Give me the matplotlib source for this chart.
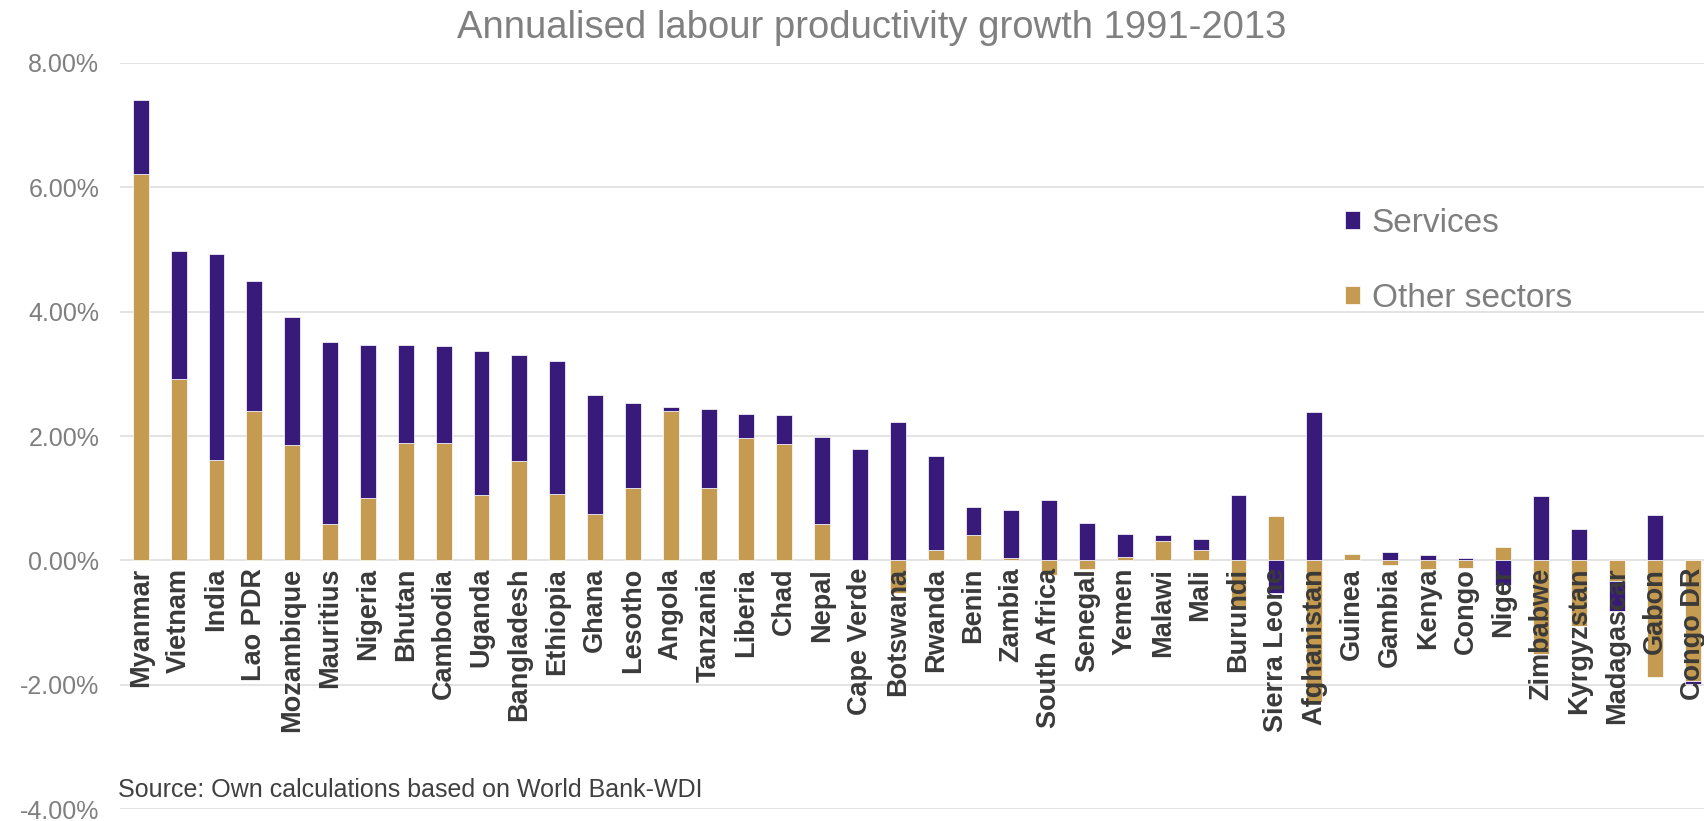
import numpy as np
import matplotlib
matplotlib.use("Agg")
import matplotlib.pyplot as plt

plt.rcParams['font.family'] = ['Liberation Sans', 'DejaVu Sans']

countries = ["Myanmar", "Vietnam", "India", "Lao PDR", "Mozambique", "Mauritius",
             "Nigeria", "Bhutan", "Cambodia", "Uganda", "Bangladesh", "Ethiopia",
             "Ghana", "Lesotho", "Angola", "Tanzania", "Liberia", "Chad", "Nepal",
             "Cape Verde", "Botswana", "Rwanda", "Benin", "Zambia", "South Africa",
             "Senegal", "Yemen", "Malawi", "Mali", "Burundi", "Sierra Leone",
             "Afghanistan", "Guinea", "Gambia", "Kenya", "Congo", "Niger",
             "Zimbabwe", "Kyrgyzstan", "Madagascar", "Gabon", "Congo DR"]

# contributions in percentage points
other = [6.21, 2.92, 1.61, 2.40, 1.85, 0.59, 1.00, 1.89, 1.89, 1.05, 1.59, 1.07,
         0.74, 1.17, 2.40, 1.17, 1.96, 1.87, 0.59, 0.00, -0.52, 0.16, 0.41, 0.03,
         -0.24, -0.14, 0.06, 0.31, 0.17, -0.78, 0.71, -2.28, 0.10, -0.07, -0.14,
         -0.12, 0.21, -1.50, -1.06, -0.34, -1.88, -1.94]
services = [1.20, 2.05, 3.32, 2.09, 2.07, 2.92, 2.47, 1.58, 1.55, 2.31, 1.72, 2.13,
            1.92, 1.36, 0.06, 1.27, 0.39, 0.46, 1.40, 1.79, 2.22, 1.52, 0.45, 0.78,
            0.97, 0.60, 0.37, 0.10, 0.17, 1.05, -0.52, 2.38, 0.00, 0.14, 0.08,
            0.04, -0.39, 1.03, 0.51, -0.48, 0.73, -0.05]

yticks = [-4, -2, 0, 2, 4, 6, 8]

c_serv = "#371a79"
c_other = "#c49b51"

o = np.array(other) / 100
s = np.array(services) / 100
# excel style stacking: same sign stacks on top of other sectors
s_bottom = np.where(np.sign(s) == np.sign(o), o, 0)
x = np.arange(len(countries))

fig = plt.figure(figsize=(17.04, 8.21), dpi=100)
ax = fig.add_axes([120 / 1704, 12 / 821, 1 - 120 / 1704, 1 - 75 / 821])

ax.bar(x, o, width=0.42, color=c_other, edgecolor="white", linewidth=0.5,
       label="Other sectors", zorder=2)
ax.bar(x, s, bottom=s_bottom, width=0.42, color=c_serv, edgecolor="white",
       linewidth=0.5, label="Services", zorder=2)

yt = np.array(yticks) / 100
for v in yt:
    ax.axhline(v, color="#e0e0e0", linewidth=1.3, zorder=0)

ax.set_ylim(yt[0], yt[-1])
ax.set_xlim(-0.55, len(countries) - 0.7)
ax.set_yticks(yt)
ax.set_yticklabels([f"{v:.2f}%" for v in yticks], fontsize=18, color="#7f7f7f")
ax.tick_params(axis="y", length=0, pad=15)
ax.set_xticks([])
for sp in ax.spines.values():
    sp.set_visible(False)

for i, name in enumerate(countries):
    ax.text(x[i], -0.0012, name, rotation=90, ha="center", va="top",
            fontsize=19.5, fontweight="bold", color="#3a3a3a", zorder=5)

fig.text(872 / 1704, 1 - 28 / 821, "Annualised labour productivity growth 1991-2013",
         ha="center", va="center", fontsize=27.5, color="#808080")
fig.text(118 / 1704, 1 - 790 / 821, "Source: Own calculations based on World Bank-WDI",
         ha="left", va="center", fontsize=18, color="#404040")

h, l = ax.get_legend_handles_labels()
fig.legend(h[::-1], l[::-1], loc="center left", bbox_to_anchor=(1345 / 1704, 1 - 261 / 821),
           frameon=False, fontsize=24, labelcolor="#7f7f7f", handlelength=0.45,
           handleheight=0.45, handletextpad=0.35, labelspacing=1.3, borderpad=0,
           borderaxespad=0)

fig.savefig("out.png", dpi=100)
